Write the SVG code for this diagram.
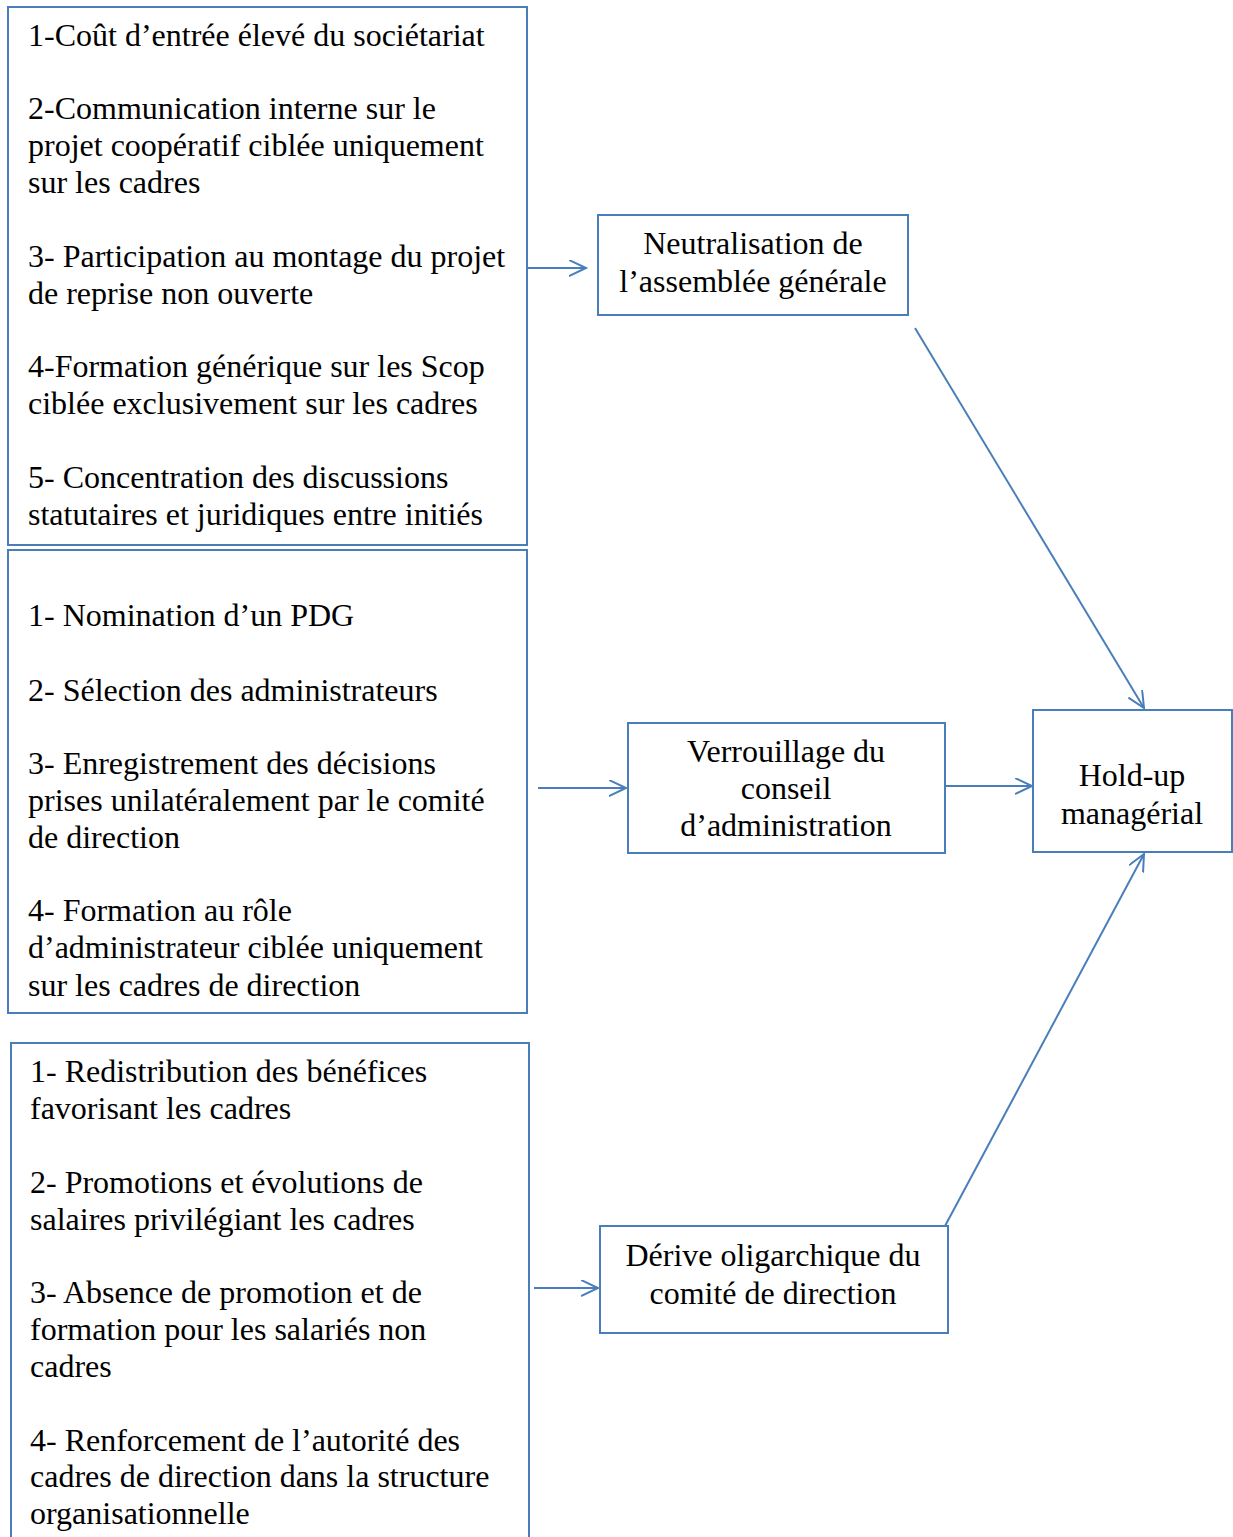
<svg xmlns="http://www.w3.org/2000/svg" width="1233" height="1537" viewBox="0 0 1233 1537">
<defs>
<style>
.box{fill:#fff;stroke:#4a7ebb;stroke-width:2}
.t{font-family:"Liberation Serif","Times New Roman",serif;font-size:32px;fill:#000}
.c{text-anchor:middle}
.ln{stroke:#4a7ebb;stroke-width:2;fill:none}
</style>
<marker id="ah" markerWidth="20" markerHeight="20" refX="17" refY="8" orient="auto" markerUnits="userSpaceOnUse">
<path d="M0,0 L17,8 L0,16" fill="none" stroke="#4a7ebb" stroke-width="2"/>
</marker>
</defs>
<rect width="1233" height="1537" fill="#fff"/>
<g id="boxA">
<rect class="box" x="8" y="7" width="519" height="538"/>
<text class="t"><tspan x="28" y="46">1-Coût d’entrée élevé du sociétariat</tspan><tspan x="28" y="119">2-Communication interne sur le</tspan><tspan x="28" y="156">projet coopératif ciblée uniquement</tspan><tspan x="28" y="193">sur les cadres</tspan><tspan x="28" y="267">3- Participation au montage du projet</tspan><tspan x="28" y="304">de reprise non ouverte</tspan><tspan x="28" y="377">4-Formation générique sur les Scop</tspan><tspan x="28" y="414">ciblée exclusivement sur les cadres</tspan><tspan x="28" y="488">5- Concentration des discussions</tspan><tspan x="28" y="525">statutaires et juridiques entre initiés</tspan></text>
</g>
<g id="boxB">
<rect class="box" x="8" y="550" width="519" height="463"/>
<text class="t"><tspan x="28" y="626">1- Nomination d’un PDG</tspan><tspan x="28" y="701">2- Sélection des administrateurs</tspan><tspan x="28" y="774">3- Enregistrement des décisions</tspan><tspan x="28" y="811">prises unilatéralement par le comité</tspan><tspan x="28" y="848">de direction</tspan><tspan x="28" y="921">4- Formation au rôle</tspan><tspan x="28" y="958">d’administrateur ciblée uniquement</tspan><tspan x="28" y="996">sur les cadres de direction</tspan></text>
</g>
<g id="boxC">
<rect class="box" x="11" y="1043" width="518" height="520"/>
<text class="t"><tspan x="30" y="1082">1- Redistribution des bénéfices</tspan><tspan x="30" y="1119">favorisant les cadres</tspan><tspan x="30" y="1193">2- Promotions et évolutions de</tspan><tspan x="30" y="1230">salaires privilégiant les cadres</tspan><tspan x="30" y="1303">3- Absence de promotion et de</tspan><tspan x="30" y="1340">formation pour les salariés non</tspan><tspan x="30" y="1377">cadres</tspan><tspan x="30" y="1451">4- Renforcement de l’autorité des</tspan><tspan x="30" y="1487">cadres de direction dans la structure</tspan><tspan x="30" y="1524">organisationnelle</tspan></text>
</g>
<g id="neutralisation">
<rect class="box" x="598" y="215" width="310" height="100"/>
<text class="t c"><tspan x="753" y="254">Neutralisation de</tspan><tspan x="753" y="292">l’assemblée générale</tspan></text>
</g>
<g id="verrouillage">
<rect class="box" x="628" y="723" width="317" height="130"/>
<text class="t c"><tspan x="786" y="762">Verrouillage du</tspan><tspan x="786" y="799">conseil</tspan><tspan x="786" y="836">d’administration</tspan></text>
</g>
<g id="holdup">
<rect class="box" x="1033" y="710" width="199" height="142"/>
<text class="t c"><tspan x="1132" y="786">Hold-up</tspan><tspan x="1132" y="824">managérial</tspan></text>
</g>
<g id="derive">
<rect class="box" x="600" y="1226" width="348" height="107"/>
<text class="t c"><tspan x="773" y="1266">Dérive oligarchique du</tspan><tspan x="773" y="1304">comité de direction</tspan></text>
</g>
<g id="connectors">
<line class="ln" x1="528" y1="268" x2="586" y2="268" marker-end="url(#ah)"/>
<line class="ln" x1="538" y1="788" x2="626" y2="788" marker-end="url(#ah)"/>
<line class="ln" x1="534" y1="1288" x2="598" y2="1288" marker-end="url(#ah)"/>
<line class="ln" x1="945" y1="786" x2="1032" y2="786" marker-end="url(#ah)"/>
<line class="ln" x1="915" y1="328" x2="1144" y2="708" marker-end="url(#ah)"/>
<line class="ln" x1="945" y1="1226" x2="1144" y2="854" marker-end="url(#ah)"/>
</g>
</svg>
